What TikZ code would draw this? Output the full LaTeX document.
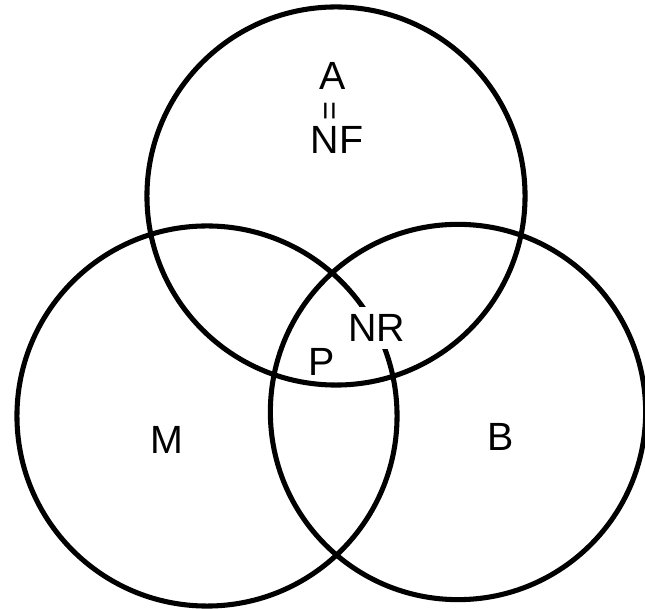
\documentclass[tikz,border=0pt]{standalone}
\usepackage{fontspec}
\setmainfont{Liberation Sans}
\usepackage{tikz}
\usetikzlibrary{positioning}

\begin{document}
\begin{tikzpicture}[
  x=0.025cm, y=0.025cm,
  setcirc/.style={circle, draw=black, line width=3.6pt, inner sep=0pt},
  setlabel/.style={font=\fontsize{28}{30}\selectfont, inner sep=1pt},
  cutlabel/.style={setlabel, fill=white, inner sep=5pt}
]
\useasboundingbox (0,0) rectangle (645,609);

% Circles
\node[setcirc, minimum size=9.45cm] (setA) at (336,413) {};
\node[setcirc, minimum size=9.5cm] (setM) at (207,193) {};
\node[setcirc, minimum size=9.38cm] (setB) at (458,197) {};

% Top circle labels
\node[setlabel] (labA) at (333,533) {A};
\node[font=\fontsize{23}{24}\selectfont, rotate=90, inner sep=0pt] (eqsign) at (333,498) {=};
\node[setlabel] (labNF) at (337,469) {NF};

% Overlap labels
\node[cutlabel] (labNR) at (377,281) {NR};
\node[setlabel] (labP) at (322,247) {P};

% Outer labels
\node[setlabel] (labM) at (167,169) {M};
\node[setlabel] (labB) at (501,172) {B};

\end{tikzpicture}
\end{document}
